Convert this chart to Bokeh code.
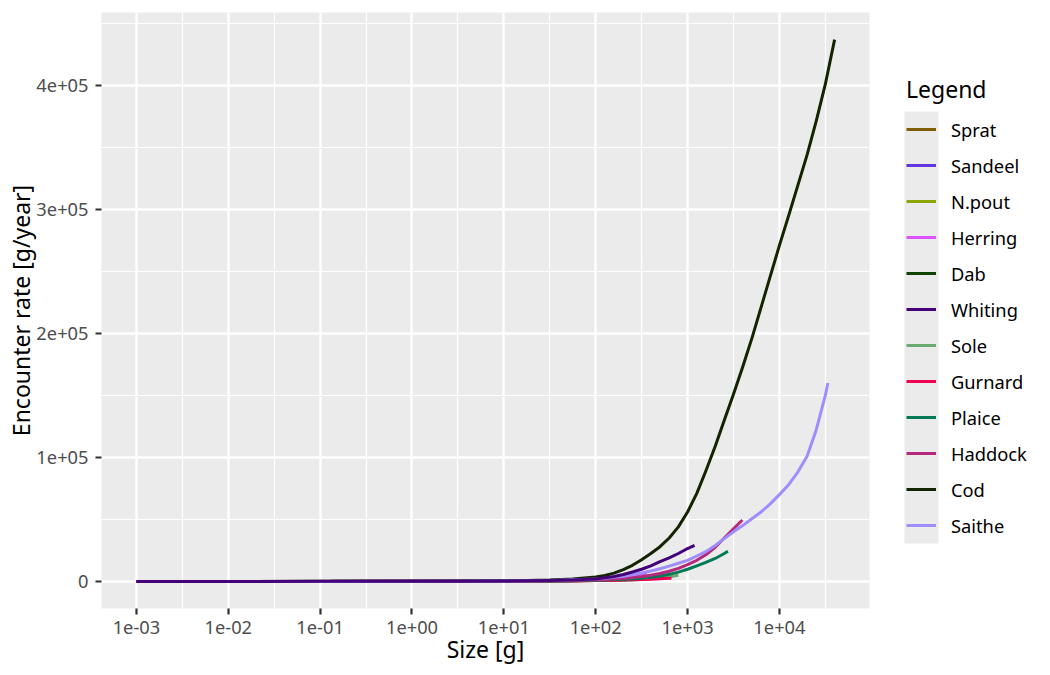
import math
from bokeh.plotting import figure
from bokeh.layouts import row
from bokeh.models import Range1d, FixedTicker, Legend, LegendItem
from bokeh.embed import file_html
from bokeh.resources import INLINE

species = ["Sprat", "Sandeel", "N.pout", "Herring", "Dab", "Whiting",
           "Sole", "Gurnard", "Plaice", "Haddock", "Cod", "Saithe"]
colors = ["#815f00", "#6237e2", "#8da600", "#de53ff", "#0e4300", "#430079",
          "#6caa72", "#ee0053", "#007957", "#b42979", "#142300", "#a08dfb"]

# shared size grid [g]; each species uses grid points below its max size, then its max size
size_grid = [0.001, 0.01, 0.1, 1, 3.16, 10, 17.8, 31.6, 56.2,
             100, 126, 158, 200, 251, 316, 398, 501, 631, 794,
             1000, 1260, 1580, 2000, 2510, 3160, 3980, 5010, 6310, 7940,
             10000, 12600, 15800, 20000, 25100, 31600]
max_size = [33, 36, 100, 359, 324, 1192, 794, 668, 2750, 3950, 39851, 33650]

# encounter rate [g/year]
rate_sprat = [0.5, 3, 15, 40, 100, 200, 290, 400, 420]
rate_sandeel = [0.4, 2.5, 12, 30, 80, 150, 230, 330, 370]
rate_npout = [0.5, 3, 15, 40, 100, 200, 320, 450, 800, 1300]
rate_herring = [1, 5, 25, 60, 140, 300, 450, 650, 1000, 1700, 2200, 2900, 3800,
                4800, 6000, 6800]
rate_dab = [0.5, 3, 12, 30, 60, 120, 180, 280, 450, 700, 820, 960, 1120, 1300,
            1550, 1650]
rate_whiting = [1, 7, 30, 80, 170, 350, 500, 750, 1200, 2000, 2900, 4000, 5600,
                7600, 9800, 12500, 16000, 19000, 22500, 26500, 29000]
rate_sole = [0.5, 3, 10, 30, 60, 120, 180, 300, 500, 800, 950, 1100, 1300, 1500,
             1750, 2200, 2900, 3800, 5000]
rate_gurnard = [0.5, 3, 10, 30, 55, 110, 170, 250, 400, 650, 760, 880, 1050, 1250,
                1500, 1800, 2200, 2450, 2600]
rate_plaice = [0.7, 4, 12, 40, 80, 150, 230, 350, 600, 1000, 1200, 1450, 1750,
               2100, 2500, 3300, 4400, 5700, 7500, 9800, 12500, 15300, 18500,
               22500, 24300]
rate_haddock = [0.8, 5, 15, 50, 100, 200, 300, 450, 800, 1300, 1600, 2000, 2500,
                3100, 3900, 5000, 6400, 8200, 10500, 13500, 17000, 21500, 27500,
                35000, 42500, 49500]
rate_cod = [2, 8, 35, 140, 280, 500, 750, 1150, 2000, 3500, 4800, 6700, 9500,
            13000, 17500, 22500, 28000, 35000, 44000, 56000, 71000, 89000, 109000,
            130000, 151000, 173000, 196000, 221000, 246000, 271000, 295000, 319000,
            344000, 371000, 401000, 437000]
rate_saithe = [1, 6, 25, 100, 200, 400, 550, 800, 1300, 2000, 2600, 3300, 4200,
               5400, 6800, 8400, 10200, 12300, 14600, 17000, 20500, 24000, 29000,
               34500, 40000, 45000, 50500, 56000, 62500, 70000, 78000, 88000,
               101000, 122000, 150000, 160000]
rates = [rate_sprat, rate_sandeel, rate_npout, rate_herring, rate_dab, rate_whiting,
         rate_sole, rate_gurnard, rate_plaice, rate_haddock, rate_cod, rate_saithe]

x_major = [1e-3, 1e-2, 1e-1, 1e0, 1e1, 1e2, 1e3, 1e4]
x_labels = ["1e-03", "1e-02", "1e-01", "1e+00", "1e+01", "1e+02", "1e+03", "1e+04"]
y_major = [0, 100000, 200000, 300000, 400000]
y_labels = ["0", "1e+05", "2e+05", "3e+05", "4e+05"]

FONT = "Noto Sans"
TITLE_SIZE = "23px"
TICK_SIZE = "18.3px"

series = []
for i, name in enumerate(species):
    xs = [g for g in size_grid if g < max_size[i]] + [max_size[i]]
    assert len(xs) == len(rates[i]), name
    series.append((xs, rates[i]))

# ranges with ggplot-like 5% expansion
lx_all = [math.log10(v) for xs, _ in series for v in xs]
lo, hi = min(lx_all), max(lx_all)
pad = 0.05 * (hi - lo)
ymax = max(max(r) for r in rates)
ymin = 0.0
ypad = 0.05 * (ymax - ymin)

H = 672
TOP, BOTTOM = 12, 64
p = figure(width=880, height=H, x_axis_type="log",
           x_range=Range1d(10 ** (lo - pad), 10 ** (hi + pad)),
           y_range=Range1d(ymin - ypad, ymax + ypad),
           output_backend="svg", toolbar_location=None,
           min_border_left=101, min_border_right=11, min_border_top=TOP,
           min_border_bottom=BOTTOM,
           background_fill_color="#EBEBEB", border_fill_color="white",
           outline_line_color=None)

x_minor = [10 ** (k + 0.5) for k in range(-4, 5)]
y_minor = [50000 + 100000 * k for k in range(-1, 5)]
xt = FixedTicker(ticks=x_major, minor_ticks=x_minor)
yt = FixedTicker(ticks=y_major, minor_ticks=y_minor)
p.xaxis.ticker = xt
p.yaxis.ticker = yt
p.xgrid.ticker = xt
p.ygrid.ticker = yt
p.xaxis.major_label_overrides = dict(zip(x_major, x_labels))
p.yaxis.major_label_overrides = dict(zip(y_major, y_labels))

for g in (p.xgrid, p.ygrid):
    g.grid_line_color = "white"
    g.grid_line_width = 2.4
    g.minor_grid_line_color = "white"
    g.minor_grid_line_width = 1.2

for ax in (p.xaxis, p.yaxis):
    ax.axis_line_color = None
    ax.major_tick_line_color = "#333333"
    ax.major_tick_line_width = 2.2
    ax.major_tick_out = 6
    ax.major_tick_in = 0
    ax.minor_tick_line_color = None
    ax.major_label_text_font = FONT
    ax.major_label_text_font_size = TICK_SIZE
    ax.major_label_text_color = "#4D4D4D"
    ax.axis_label_text_font = FONT
    ax.axis_label_text_font_size = TITLE_SIZE
    ax.axis_label_text_font_style = "normal"
    ax.axis_label_text_color = "black"

p.xaxis.major_label_standoff = 6
p.xaxis.axis_label_standoff = -4
p.yaxis.major_label_standoff = 7
p.yaxis.axis_label_standoff = -4

p.xaxis.axis_label = "Size [g]"
p.yaxis.axis_label = "Encounter rate [g/year]"

order = [i for i in range(len(species)) if species[i] != "Whiting"] + [species.index("Whiting")]
for i in order:
    xs, ys = series[i]
    p.line(xs, ys, line_color=colors[i], line_width=3, line_join="round")

# ---- legend panel (separate figure so nothing is clipped) ----
# its frame is aligned with the main frame, so map data y = page y over the frame
LW = 168
frame_top, frame_bottom = TOP, H - BOTTOM
leg = figure(width=LW, height=H, x_range=Range1d(0, LW),
             y_range=Range1d(frame_bottom, frame_top),
             output_backend="svg", toolbar_location=None,
             x_axis_location=None, y_axis_location=None,
             min_border=0, outline_line_color=None,
             background_fill_color="white", border_fill_color="white")
leg.grid.visible = False

key_left, key_right, key_top, row_h = 24, 58, 111, 36
key_bottom = key_top + row_h * len(species)
leg.quad(left=[key_left], right=[key_right], top=[key_top], bottom=[key_bottom],
         fill_color="#EBEBEB", line_color=None)

dummies = [leg.line(x=[-20, -10], y=[frame_bottom + 50, frame_bottom + 50],
                    line_color=c, line_width=3) for c in colors]
legend = Legend(items=[LegendItem(label=s, renderers=[r]) for s, r in zip(species, dummies)],
                location=(key_left + 2, frame_bottom - key_bottom), title="Legend",
                title_text_font=FONT, title_text_font_size=TITLE_SIZE,
                title_text_font_style="normal", title_text_color="black",
                title_standoff=6,
                label_text_font=FONT, label_text_font_size=TICK_SIZE,
                label_text_color="black",
                glyph_width=30, glyph_height=row_h, label_height=row_h, spacing=0,
                label_standoff=15, padding=0, margin=0,
                background_fill_alpha=0, border_line_color=None)
leg.add_layout(legend)

layout = row(p, leg)
open("out.html", "w").write(file_html(layout, INLINE))
